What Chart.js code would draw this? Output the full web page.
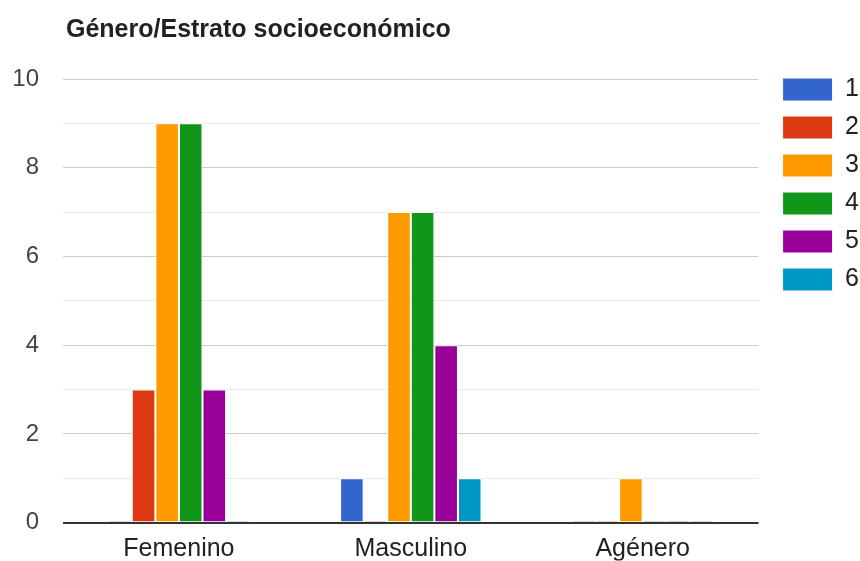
<!DOCTYPE html>
<html>
<head>
<meta charset="utf-8">
<script src="https://cdn.jsdelivr.net/npm/chart.js@4/dist/chart.umd.min.js"></script>
<style>
  html, body { margin: 0; padding: 0; background: #fff; }
  #wrap { width: 860px; height: 561px; }
</style>
</head>
<body>
<div id="wrap"><canvas id="c" width="860" height="561"></canvas></div>
<script>
const categories = ['Femenino', 'Masculino', 'Agénero'];
const seriesLabels = ['1', '2', '3', '4', '5', '6'];
const estrato1 = [0, 1, 0];
const estrato2 = [3, 0, 0];
const estrato3 = [9, 7, 1];
const estrato4 = [9, 7, 0];
const estrato5 = [3, 4, 0];
const estrato6 = [0, 1, 0];
const colors = ['#3366cc', '#dc3912', '#ff9900', '#109618', '#990099', '#0099c6'];
const yTicks = [0, 2, 4, 6, 8, 10];

const allSeries = [estrato1, estrato2, estrato3, estrato4, estrato5, estrato6];
const FONT = '"Liberation Sans", Arial, sans-serif';

const boxShift = {
  id: 'boxShift',
  afterLayout(chart) {
    if (chart.legend) {
      chart.legend.left += 11;
      chart.legend.right += 11;
    }
    if (chart.titleBlock) {
      chart.titleBlock.left += 3;
      chart.titleBlock.right += 3;
    }
  }
};

new Chart(document.getElementById('c'), {
  type: 'bar',
  data: {
    labels: categories,
    datasets: allSeries.map((d, i) => ({
      label: seriesLabels[i],
      data: d,
      backgroundColor: colors[i],
      borderColor: '#ffffff',
      borderWidth: 1,
      minBarLength: 2,
      categoryPercentage: 0.61,
      barPercentage: 1.0
    }))
  },
  plugins: [boxShift],
  options: {
    responsive: false,
    animation: false,
    devicePixelRatio: 1,
    layout: { padding: { left: 10, right: 2, top: 0, bottom: 0 } },
    plugins: {
      title: {
        display: true,
        text: 'Género/Estrato socioeconómico',
        align: 'start',
        fullSize: false,
        color: '#222',
        font: { family: FONT, size: 25, weight: 'bold', lineHeight: 1.2 },
        padding: { top: 15, bottom: 34 }
      },
      legend: {
        position: 'right',
        align: 'start',
        title: {
          display: true,
          text: ' ',
          font: { family: FONT, size: 10, lineHeight: 1 },
          padding: { top: 54, bottom: 0 }
        },
        labels: {
          boxWidth: 50,
          boxHeight: 23,
          padding: 13,
          color: '#222',
          font: { family: FONT, size: 25 }
        }
      },
      tooltip: { enabled: false }
    },
    scales: {
      x: {
        grid: { display: false },
        border: { display: false },
        afterFit: s => { s.height = 38; },
        ticks: {
          color: '#222',
          font: { family: FONT, size: 25, lineHeight: 1.1 },
          padding: 5
        }
      },
      y: {
        min: 0,
        max: 10,
        border: { display: false },
        afterFit: s => { s.width = 53; },
        grid: {
          drawTicks: false,
          color: ctx => {
            const v = ctx.tick ? ctx.tick.value : 0;
            if (v === 0) return '#333333';
            return v % 2 === 0 ? '#cccccc' : '#ebebeb';
          },
          lineWidth: ctx => (ctx.tick && ctx.tick.value === 0 ? 2 : 1)
        },
        ticks: {
          stepSize: 1,
          color: '#444',
          padding: 24,
          font: { family: FONT, size: 24 },
          callback: v => (yTicks.includes(v) ? String(v) : '')
        }
      }
    }
  }
});
</script>
</body>
</html>
